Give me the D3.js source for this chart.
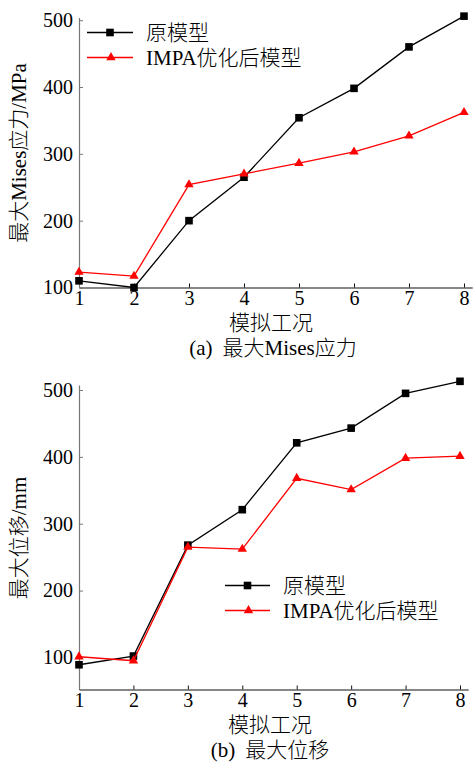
<!DOCTYPE html>
<html>
<head>
<meta charset="utf-8">
<script src="https://cdn.jsdelivr.net/npm/d3@7"></script>
<style>
  body { margin: 0; background: #fff; }
  svg text { font-family: "Liberation Serif", "Noto Sans CJK SC", serif; font-weight: 300; fill: #000; }
</style>
</head>
<body>
<svg id="chart" width="473" height="762"></svg>
<script>
// working conditions 1..8
var cases = [1, 2, 3, 4, 5, 6, 7, 8];
var seriesNames = ["原模型", "IMPA优化后模型"];

// (a) max Mises stress, MPa
var stressOrig = [110, 100, 200, 265, 354, 398, 460, 506];
var stressOpt = [123, 117, 254, 270, 286, 303, 327, 362];

// (b) max displacement, mm
var dispOrig = [89, 102, 268, 321, 421, 443, 495, 513];
var dispOpt = [101, 95, 265, 262, 368, 351, 398, 401];

var yTicks = [100, 200, 300, 400, 500];

var svg = d3.select("#chart");

function drawPanel(cfg) {
    var x = d3.scaleLinear().domain([1, 8.15]).range([cfg.x0, cfg.x0 + (cfg.x1 - cfg.x0) * 7.15 / 7]);
    var y = d3.scaleLinear().domain(cfg.yDomain).range(cfg.yRange);

    var g = svg.append("g");

    // x axis
    var xAxis = g.append("g")
        .attr("transform", `translate(0,${cfg.yRange[0]})`)
        .call(d3.axisBottom(x).tickValues(cases).tickSize(-4).tickPadding(3).tickSizeOuter(0).tickFormat(d3.format("d")));
    xAxis.select(".domain").attr("stroke", "#111").attr("stroke-width", 1.2);
    xAxis.selectAll(".tick line").attr("stroke", "#111");
    xAxis.selectAll("text").style("font-size", "20px").attr("fill", "#000");

    // y axis
    var yAxis = g.append("g")
        .attr("transform", `translate(${cfg.x0},0)`)
        .call(d3.axisLeft(y).tickValues(yTicks).tickSize(-4).tickPadding(6).tickSizeOuter(0));
    yAxis.select(".domain").attr("stroke", "#777").attr("stroke-width", 1.2);
    yAxis.selectAll(".tick line").attr("stroke", "#777");
    yAxis.selectAll("text").style("font-size", "20px").attr("fill", "#000");

    var line = d3.line()
        .x((d, i) => x(cases[i]))
        .y(d => y(d));

    // original model: black squares
    g.append("path")
        .attr("d", line(cfg.orig))
        .attr("fill", "none")
        .attr("stroke", "#000")
        .attr("stroke-width", 1.3);
    g.selectAll(".sq")
        .data(cfg.orig)
        .enter()
        .append("rect")
        .attr("x", (d, i) => x(cases[i]) - 3.8)
        .attr("y", d => y(d) - 3.8)
        .attr("width", 7.6)
        .attr("height", 7.6)
        .attr("fill", "#000");

    // optimized model: red triangles
    var tri = d3.symbol().type(d3.symbolTriangle).size(38);
    g.append("path")
        .attr("d", line(cfg.opt))
        .attr("fill", "none")
        .attr("stroke", "#f00")
        .attr("stroke-width", 1.3);
    g.selectAll(".tri")
        .data(cfg.opt)
        .enter()
        .append("path")
        .attr("d", tri)
        .attr("transform", (d, i) => `translate(${x(cases[i])},${y(d)})`)
        .attr("fill", "#f00");

    // legend
    var leg = cfg.legend;
    var lg = g.append("g");
    [0, 1].forEach(k => {
        var ly = leg.y + k * leg.gap;
        var col = k == 0 ? "#000" : "#f00";
        lg.append("line")
            .attr("x1", leg.x).attr("x2", leg.x + leg.len)
            .attr("y1", ly).attr("y2", ly)
            .attr("stroke", col).attr("stroke-width", 1.3);
        if (k == 0) {
            lg.append("rect")
                .attr("x", leg.x + leg.len / 2 - 3.8).attr("y", ly - 3.8)
                .attr("width", 7.6).attr("height", 7.6).attr("fill", col);
        } else {
            lg.append("path")
                .attr("d", tri)
                .attr("transform", `translate(${leg.x + leg.len / 2 + 1},${ly})`)
                .attr("fill", col);
        }
        lg.append("text")
            .attr("x", leg.x + leg.len + 13)
            .attr("y", ly)
            .attr("dominant-baseline", "central")
            .style("font-size", "21px")
            .text(seriesNames[k]);
    });

    // titles
    g.append("text")
        .attr("text-anchor", "middle")
        .attr("x", cfg.xTitle[0]).attr("y", cfg.xTitle[1])
        .attr("dominant-baseline", "central")
        .style("font-size", "21px")
        .text("模拟工况");

    var cap = g.append("text")
        .attr("text-anchor", "middle")
        .attr("x", cfg.caption[0]).attr("y", cfg.caption[1])
        .attr("dominant-baseline", "central")
        .style("font-size", "21px");
    cap.append("tspan").text(cfg.captionTag);
    cap.append("tspan").attr("dx", 10).text(cfg.captionText);

    g.append("text")
        .attr("text-anchor", "middle")
        .attr("transform", `translate(${19},${cfg.yTitleY}) rotate(-90)`)
        .attr("dominant-baseline", "central")
        .style("font-size", "21px")
        .text(cfg.yTitle);
}

drawPanel({
    x0: 79, x1: 464,
    yDomain: [100, 504], yRange: [287.5, 17.5],
    orig: stressOrig, opt: stressOpt,
    legend: { x: 87, y: 32.5, gap: 25, len: 46 },
    xTitle: [271, 323],
    caption: [273, 348], captionTag: "(a)", captionText: "最大Mises应力",
    yTitle: "最大Mises应力/MPa", yTitleY: 153
});

drawPanel({
    x0: 79, x1: 460,
    yDomain: [52, 507.5], yRange: [689.5, 385],
    orig: dispOrig, opt: dispOpt,
    legend: { x: 225, y: 585.5, gap: 25, len: 45 },
    xTitle: [270, 724.5],
    caption: [270, 749.5], captionTag: "(b)", captionText: "最大位移",
    yTitle: "最大位移/mm", yTitleY: 538
});
</script>
</body>
</html>
